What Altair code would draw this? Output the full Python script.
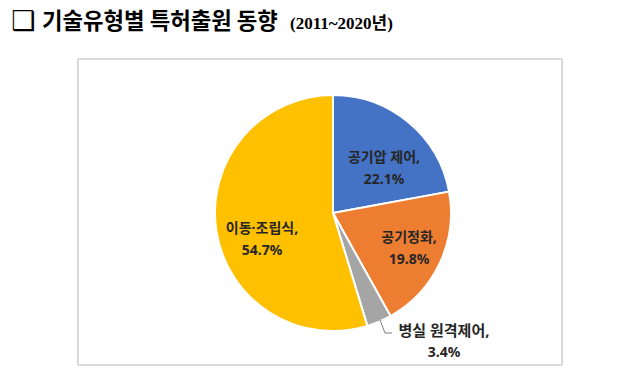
import altair as alt
import pandas as pd

# ---- data ----
categories = ["공기압 제어", "공기정화", "병실 원격제어", "이동·조립식"]
values = [22.1, 19.8, 3.4, 54.7]
colors = ["#4472C4", "#ED7D31", "#A5A5A5", "#FFC000"]

title_box = "❑"
title_main = "기술유형별 특허출원 동향"
title_years = "(2011~2020년)"

# ---- layout (view pixel coordinates, kept apart from the data) ----
pie_cx, pie_cy, pie_r = 255, 154, 118
label_x = [306, 331, 366, 184]
label_y = [99, 179, 272, 170]
label_size = [14, 14, 15, 14]
line_gap = 22
leader_x = [302, 307, 314]
leader_y = [261, 274, 274]

df = pd.DataFrame({"cat": categories, "value": values, "idx": range(len(categories))})

lab = pd.DataFrame({
    "cat": categories,
    "name": [c + "," for c in categories],
    "pct": [f"{v:.1f}%" for v in values],
    "lx": label_x,
    "ly": label_y,
    "ly2": [y + line_gap for y in label_y],
    "fs": label_size,
})

pie = alt.Chart(df).mark_arc(outerRadius=pie_r, stroke="white", strokeWidth=2).encode(
    theta=alt.Theta("value:Q", stack=True),
    color=alt.Color("cat:N", scale=alt.Scale(domain=categories, range=colors), legend=None),
    order=alt.Order("idx:Q"),
    x=alt.value(pie_cx),
    y=alt.value(pie_cy),
)

txt_style = dict(font="Noto Sans, Noto Sans CJK KR", fontWeight="bold", color="#262626",
                 align="center", baseline="middle")

names = alt.Chart(lab).mark_text(**txt_style).encode(
    x=alt.X("lx:Q", scale=None), y=alt.Y("ly:Q", scale=None), text="name:N",
    size=alt.Size("fs:Q", scale=None, legend=None))
pcts = alt.Chart(lab).mark_text(fontSize=14, **txt_style).encode(
    x=alt.X("lx:Q", scale=None), y=alt.Y("ly2:Q", scale=None), text="pct:N")

leader = alt.Chart(pd.DataFrame({"x": leader_x, "y": leader_y, "o": [0, 1, 2]})).mark_line(
    color="#808080", strokeWidth=1).encode(
    x=alt.X("x:Q", scale=None), y=alt.Y("y:Q", scale=None), order="o:Q")

one = pd.DataFrame({"a": [0]})
t_box = alt.Chart(one).mark_text(font="DejaVu Sans", fontSize=27, align="left",
                                 baseline="alphabetic", color="#000").encode(
    x=alt.value(-67), y=alt.value(-29), text=alt.value(title_box))
t_main = alt.Chart(one).mark_text(font="Noto Sans CJK KR", fontSize=22.3, fontWeight="bold",
                                  align="left", baseline="alphabetic", color="#000").encode(
    x=alt.value(-36), y=alt.value(-30), text=alt.value(title_main))
t_years = alt.Chart(one).mark_text(font="Liberation Serif, Noto Sans CJK KR", fontSize=17,
                                   fontWeight="bold", align="left", baseline="alphabetic",
                                   color="#000").encode(
    x=alt.value(212), y=alt.value(-30), text=alt.value(title_years))

chart = alt.layer(pie, names, pcts, leader, t_box, t_main, t_years).properties(
    width=484, height=306,
    autosize=alt.AutoSizeParams(type="none"),
    padding={"left": 70, "top": 51, "right": 56, "bottom": 6},
    background="white",
).configure_view(stroke="#d0d0d0", strokeWidth=1.5)

chart.save("out.html", embed_options={"renderer": "svg", "actions": False})
